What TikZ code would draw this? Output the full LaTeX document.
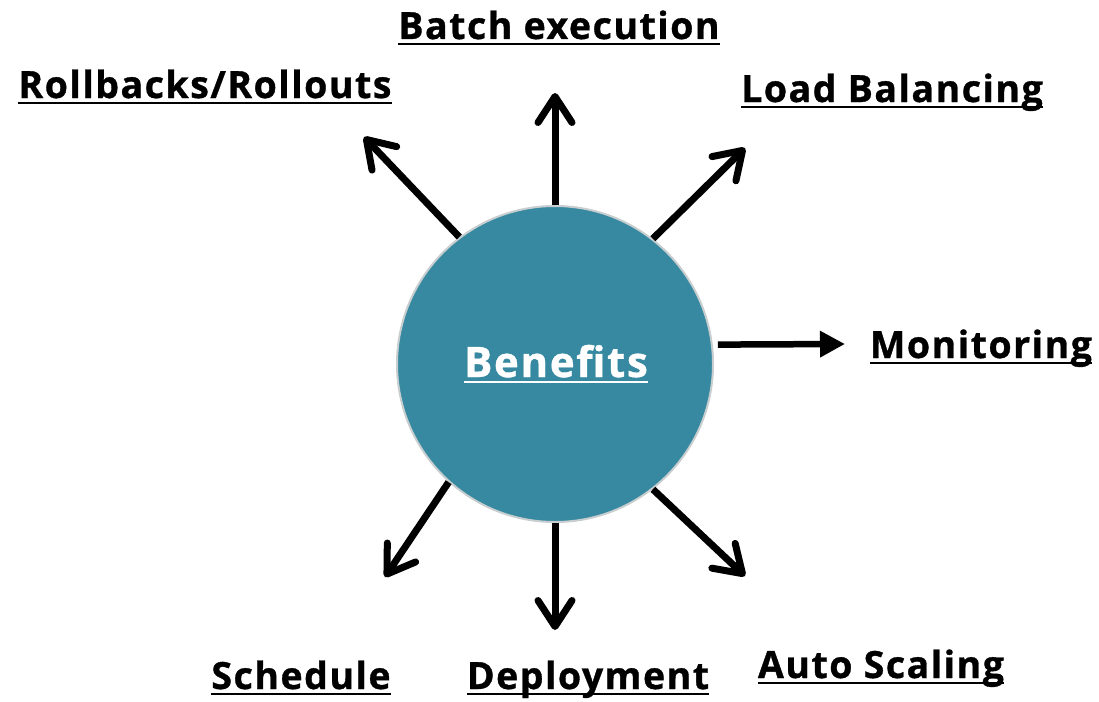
\documentclass[tikz,border=0pt]{standalone}
\usepackage{fontspec}
\setmainfont{Open Sans}
\newfontfamily\labfont{Open Sans}[LetterSpace=4, BoldFeatures={FakeBold=0.9}]
\usetikzlibrary{arrows.meta}
\definecolor{teal1}{RGB}{54,137,160}
\definecolor{rim}{RGB}{200,206,208}
\newcommand{\ulbox}[2]{\setbox0\hbox{#2}\rlap{\color{#1}\rule[-6pt]{\wd0}{2pt}}\box0}
\tikzset{
  lab/.style={anchor=base, inner sep=0pt, font=\labfont\bfseries\fontsize{37.5}{44}\selectfont, text=black},
  arr/.style={line width=7pt, -{Straight Barb[length=26pt,width=34pt,line cap=round,line join=round]}},
  tri/.style={line width=6.5pt, -{Triangle[length=25pt,width=25pt]}},
  hub/.style={circle, fill=teal1, draw=rim, line width=2pt, minimum size=316pt, inner sep=0pt}
}
\begin{document}
\begin{tikzpicture}[x=1pt,y=-1pt]
\useasboundingbox (0,0) rectangle (1099,701);
\node[hub] (b) at (555,364) {};
\node[lab, font=\labfont\bfseries\fontsize{42}{50}\selectfont, text=white] (bl) at (556,377) {\ulbox{white}{Benefits}};
\node[lab] (t1) at (559,39) {\ulbox{black}{Batch execution}};
\node[lab] (t2) at (205,98) {\ulbox{black}{Rollbacks/Rollouts}};
\node[lab] (t3) at (892,102) {\ulbox{black}{Load Balancing}};
\node[lab] (t4) at (981,358) {\ulbox{black}{Monitoring}};
\node[lab] (t5) at (301,689) {\ulbox{black}{Schedule}};
\node[lab] (t6) at (588,689) {\ulbox{black}{Deployment}};
\node[lab] (t7) at (881,678) {\ulbox{black}{Auto Scaling}};
\coordinate (pN) at (555,93);
\coordinate (pNW) at (364,137);
\coordinate (pNE) at (745,148);
\coordinate (pE) at (845,344);
\coordinate (pSW) at (385,577);
\coordinate (pS) at (555,630);
\coordinate (pSE) at (745,576);
\draw[arr] (b.90) -- (pN);
\draw[arr] (b.127.5) -- (pNW);
\draw[arr] (b.52) -- (pNE);
\draw[tri, shorten <=5pt] (b.7) -- (pE);
\draw[arr] (b.-132) -- (pSW);
\draw[arr] (b.-90) -- (pS);
\draw[arr] (b.-52) -- (pSE);
\end{tikzpicture}
\end{document}
